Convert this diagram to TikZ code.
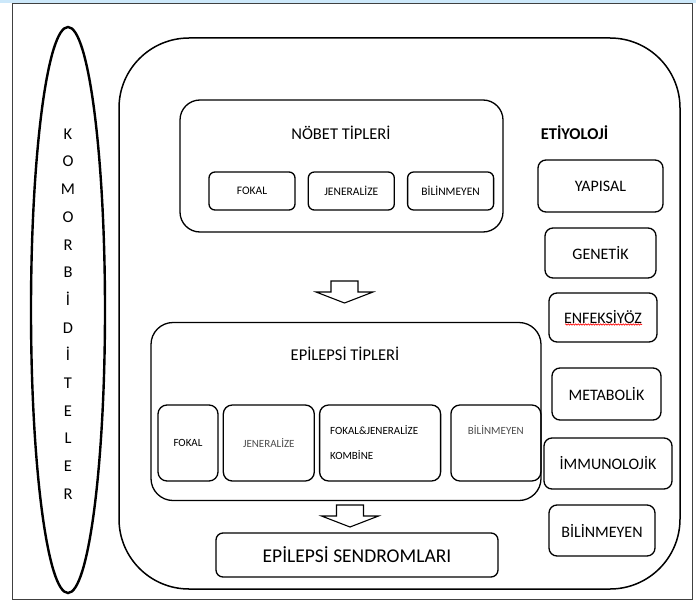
\documentclass[tikz,border=0pt]{standalone}
\usepackage{fontspec}
\setmainfont{Carlito}
\usepackage{tikz}
\usetikzlibrary{positioning,shapes.geometric,decorations.pathmorphing}
\definecolor{seritmavi}{RGB}{204,232,250}

\begin{document}
\begin{tikzpicture}[
		x=1pt, y=-1pt,
		node distance = 12pt and 12pt,
		kutu/.style = {draw, rectangle, rounded corners=6pt, line width=1.3pt, align=center, inner sep=1pt},
		kucuk/.style = {kutu, minimum width=86pt, minimum height=38pt, font=\fontsize{11.5}{13}\selectfont},
		tip/.style = {kutu, minimum height=76pt, rounded corners=9pt, font=\fontsize{11}{25}\selectfont},
		etiyo/.style = {kutu, minimum height=51pt, rounded corners=8pt, font=\fontsize{16}{19}\selectfont},
		baslik/.style = {font=\fontsize{16.5}{19}\selectfont},
		oksekli/.pic = {\draw[line width=1.1pt, line join=miter] (-13.5,0) -- (13.5,0) -- (13.5,11) -- (28.5,11) -- (0,22) -- (-28.5,11) -- (-13.5,11) -- cycle;}
	]
	\useasboundingbox (0,0) rectangle (696,602);
	\fill[seritmavi] (0,0) rectangle (696,3);
	\draw[gray!50!black, line width=0.8pt] (12,3) rectangle (692,599);

	% Komorbiditeler
	\node [draw, ellipse, line width=2.4pt, minimum width=74pt, minimum height=566pt, inner sep=0pt] (komorbidite) at (68,310) {};
	\node [align=center, font=\fontsize{16.5}{27.7}\selectfont] (komorbyazi) at (68,314) {K\\O\\M\\O\\R\\B\\İ\\D\\İ\\T\\E\\L\\E\\R};

	% Ana cerceve
	\node [kutu, rounded corners=70pt, line width=1.5pt, minimum width=561pt, minimum height=551pt] (anacerceve) at (399.5,313.5) {};

	% Nobet tipleri
	\node [kutu, rounded corners=20pt, minimum width=323pt, minimum height=132pt] (nobet) at (341.5,166) {};
	\node [baslik] (nobetbaslik) at (341,133) {NÖBET TİPLERİ};
	\node [kucuk] (nfokal) at (252,191) {FOKAL};
	\node [kucuk, right=of nfokal] (njeneralize) {JENERALİZE};
	\node [kucuk, right=of njeneralize] (nbilinmeyen) {BİLİNMEYEN};

	\pic (ok1) at (344.5,281) {oksekli};

	% Epilepsi tipleri
	\node [kutu, rounded corners=22pt, minimum width=390pt, minimum height=178pt] (epilepsi) at (346,411.5) {};
	\node [baslik] (epilepsibaslik) at (345,354) {EPİLEPSİ TİPLERİ};
	\node [tip, minimum width=60pt] (efokal) at (188,443) {FOKAL};
	\node [tip, minimum width=91pt, right=4pt of efokal, text=black!70] (ejeneralize) {JENERALİZE};
	\node [tip, minimum width=121pt, right=4pt of ejeneralize, align=left, text width=100pt] (ekombine) {FOKAL\&JENERALİZE\\KOMBİNE\\[2pt]};
	\node [tip, minimum width=90pt, right=9pt of ekombine, text=black!70] (ebilinmeyen) {BİLİNMEYEN\\[0pt]};

	\pic (ok2) at (350,505) {oksekli};

	% Sendromlar
	\node [kutu, minimum width=282pt, minimum height=44pt, rounded corners=7pt, font=\fontsize{19.5}{22}\selectfont] (sendrom) at (357,555) {EPİLEPSİ SENDROMLARI};

	% Etiyoloji
	\node [font=\bfseries\fontsize{16.5}{19}\selectfont] (etiyoloji) at (574.5,133) {ETİYOLOJİ};
	\node [etiyo, minimum width=125pt, minimum height=52pt] (yapisal) at (600.5,186) {YAPISAL};
	\node [etiyo, minimum width=111pt, minimum height=50pt] (genetik) at (600.5,253) {GENETİK};
	\node [etiyo, minimum width=108pt, minimum height=49pt] (enfeksiyoz) at (603,317.5) {\raisebox{2pt}{ENFEKSİYÖZ}};
	\node [etiyo, minimum width=109pt, minimum height=52pt] (metabolik) at (606.5,394) {METABOLİK};
	\node [etiyo, minimum width=128pt] (immunolojik) at (608,463.5) {İMMUNOLOJİK};
	\node [etiyo, minimum width=106pt] (bilinmeyen) at (602,530.5) {BİLİNMEYEN};
	\draw [red, line width=0.6pt, decorate, decoration={snake, amplitude=0.7pt, segment length=2.5pt}] ([xshift=-38pt, yshift=-7pt]enfeksiyoz.center) -- ([xshift=39pt, yshift=-7pt]enfeksiyoz.center);
\end{tikzpicture}
\end{document}
